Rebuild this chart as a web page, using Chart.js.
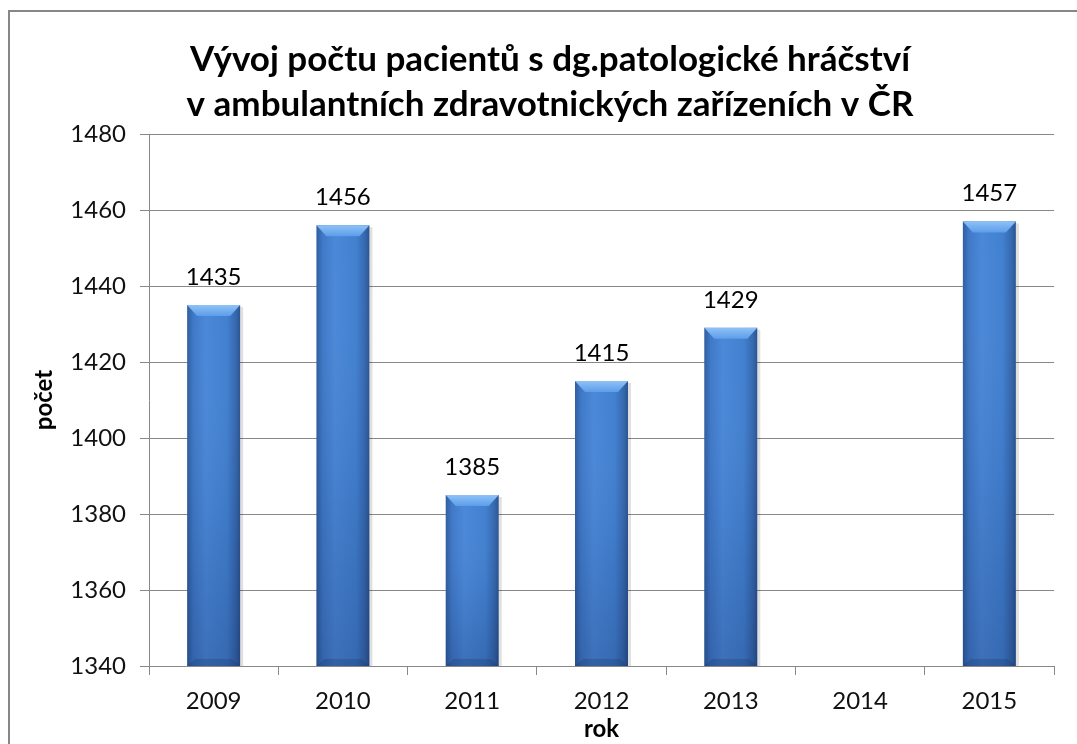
<!DOCTYPE html>
<html>
<head>
<meta charset="utf-8">
<script src="https://cdn.jsdelivr.net/npm/chart.js@4/dist/chart.umd.min.js"></script>
<style>
  html, body { margin: 0; padding: 0; background: #fff; }
  #wrap { position: relative; width: 1077px; height: 744px; overflow: hidden; }
  #frame { position: absolute; left: 8px; top: 10px; width: 1100px; height: 800px; border: 2px solid #878787; box-sizing: border-box; pointer-events: none; }
  canvas { position: absolute; left: 0; top: 0; }
</style>
</head>
<body>
<div id="wrap">
  <canvas id="chart" width="1077" height="744"></canvas>
  <div id="frame"></div>
</div>
<script>
// data
const years = ['2009', '2010', '2011', '2012', '2013', '2014', '2015'];
const patients = [1435, 1456, 1385, 1415, 1429, null, 1457];
const titleLines = ['Vývoj počtu pacientů s dg.patologické hráčství', 'v ambulantních zdravotnických zařízeních v ČR'];

const FONT = 'Lato, "Open Sans", sans-serif';

// title drawn by hand so it can sit a bit right of canvas centre like the original
const titlePlugin = {
  id: 'bigTitle',
  afterDraw(chart) {
    const c = chart.ctx;
    c.save();
    c.fillStyle = '#000';
    c.font = 'bold 35px ' + FONT;
    c.textAlign = 'center';
    c.textBaseline = 'middle';
    c.fillText(titleLines[0], 550, 60);
    c.fillText(titleLines[1], 550, 105);
    c.restore();
  }
};

// bevelled bars + value labels
const barLook = {
  id: 'barLook',
  afterDatasetsDraw(chart) {
    const c = chart.ctx;
    const area = chart.chartArea;
    const meta = chart.getDatasetMeta(0);
    meta.data.forEach((bar, i) => {
      if (patients[i] == null) return;
      const w = bar.width, l = bar.x - w / 2, r = bar.x + w / 2;
      const top = bar.y, bot = Math.min(bar.base, area.bottom);
      c.save();
      // soft shadow on the right
      c.fillStyle = 'rgba(0,0,0,0.12)';
      c.fillRect(r, top + 2, 3, bot - top - 2);
      let g = c.createLinearGradient(l, 0, r, 0);
      g.addColorStop(0, '#2f5e9f');
      g.addColorStop(0.12, '#3f79c8');
      g.addColorStop(0.35, '#4a88d8');
      g.addColorStop(0.75, '#4180d0');
      g.addColorStop(0.92, '#3567ad');
      g.addColorStop(1, '#2a5490');
      c.fillStyle = g;
      c.fillRect(l, top, w, bot - top);
      let v = c.createLinearGradient(0, top, 0, bot);
      v.addColorStop(0, 'rgba(255,255,255,0)');
      v.addColorStop(0.6, 'rgba(0,0,40,0.06)');
      v.addColorStop(1, 'rgba(0,0,40,0.18)');
      c.fillStyle = v;
      c.fillRect(l, top, w, bot - top);
      // top bevel
      const bh = Math.min(11, (bot - top) / 3);
      let tg = c.createLinearGradient(0, top, 0, top + bh);
      tg.addColorStop(0, '#8ec2f8');
      tg.addColorStop(1, '#5d9de8');
      c.fillStyle = tg;
      c.beginPath();
      c.moveTo(l, top);
      c.lineTo(r, top);
      c.lineTo(r - 10, top + bh);
      c.lineTo(l + 10, top + bh);
      c.closePath();
      c.fill();
      // bottom bevel
      c.fillStyle = 'rgba(20,50,100,0.25)';
      c.beginPath();
      c.moveTo(l, bot);
      c.lineTo(r, bot);
      c.lineTo(r - 8, bot - 7);
      c.lineTo(l + 8, bot - 7);
      c.closePath();
      c.fill();
      // value label
      c.fillStyle = '#000';
      c.font = '24px ' + FONT;
      c.textAlign = 'center';
      c.textBaseline = 'bottom';
      c.fillText(String(patients[i]), bar.x, top - 16);
      c.restore();
    });
  }
};

new Chart(document.getElementById('chart'), {
  type: 'bar',
  data: {
    labels: years,
    datasets: [{
      label: 'počet',
      data: patients,
      backgroundColor: 'rgba(0,0,0,0)',
      borderWidth: 0,
      barPercentage: 0.41,
      categoryPercentage: 1
    }]
  },
  options: {
    responsive: false,
    animation: false,
    devicePixelRatio: 1,
    layout: { padding: { left: 0, right: 23, top: 134, bottom: 0 } },
    plugins: {
      legend: { display: false },
      title: { display: false },
      tooltip: { enabled: false }
    },
    scales: {
      x: {
        afterFit(scale) { scale.height = 78; },
        grid: { offset: true, drawOnChartArea: false, drawTicks: true, tickLength: 9, color: '#888' },
        border: { color: '#888', width: 1 },
        ticks: { color: '#111', font: { family: FONT, size: 24 }, padding: 12 },
        title: { display: true, text: 'rok', color: '#000', font: { family: FONT, size: 24, weight: 'bold' }, padding: { top: 0, bottom: 0 } }
      },
      y: {
        min: 1340,
        max: 1480,
        afterFit(scale) { scale.width = 149; },
        grid: { color: '#888', tickLength: 9 },
        border: { color: '#888', width: 1 },
        ticks: { stepSize: 20, color: '#111', font: { family: FONT, size: 24 }, padding: 14, callback: v => String(v) },
        title: { display: true, text: 'počet', color: '#000', font: { family: FONT, size: 24, weight: 'bold' }, padding: { top: 30, bottom: 0 } }
      }
    }
  },
  plugins: [titlePlugin, barLook]
});
</script>
</body>
</html>
